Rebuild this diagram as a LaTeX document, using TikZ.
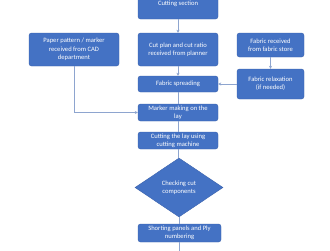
\documentclass[tikz,border=0pt]{standalone}
\usepackage{fontspec}
\setmainfont{Carlito}
\usetikzlibrary{arrows.meta,positioning,shapes.geometric}
\definecolor{stepblue}{HTML}{4472C4}
\definecolor{stepedge}{HTML}{3A62AD}
\definecolor{linkgray}{HTML}{8EA5CF}
\tikzset{
  flow/.style={-{Stealth[length=3pt,width=3pt]},draw=linkgray,line width=.6pt},
  link/.style={draw=linkgray,line width=.6pt},
  stepbox/.style={rounded corners=2.5pt,draw=stepedge,fill=stepblue,text=white,
    align=center,inner sep=1pt,font=\fontsize{6.6}{8.3}\selectfont},
  checkbox/.style={diamond,draw=stepedge,fill=stepblue,text=white,align=center,
    inner sep=0pt,font=\fontsize{6.6}{8.3}\selectfont},
}
\begin{document}
\begin{tikzpicture}[x=1pt,y=-1pt]
\useasboundingbox (0,0) rectangle (330,250);
\clip (0,0) rectangle (330,250);
\fill[white] (0,0) rectangle (330,250);
\node[stepbox,minimum width=80pt,minimum height=30pt] (sect) at (178,4) {Cutting section};
\node[stepbox,minimum width=80pt,minimum height=33pt] (plan) at (178,49.5) {Cut plan and cut ratio\\received from planner};
\node[stepbox,minimum width=90pt,minimum height=33pt] (pattern) at (74,49.5) {Paper pattern / marker\\received from CAD\\department};
\node[stepbox,minimum width=67pt,minimum height=24pt] (store) at (270.5,45) {Fabric received\\from fabric store};
\node[stepbox,minimum width=67pt,minimum height=30pt] (relax) at (270.5,84) {Fabric relaxation\\(if needed)};
\node[stepbox,minimum width=80pt,minimum height=16pt] (spread) at (178,84) {Fabric spreading};
\node[stepbox,minimum width=80pt,minimum height=17pt] (marker) at (178,112.5) {Marker making on the\\lay};
\node[stepbox,minimum width=80pt,minimum height=17pt] (lay) at (178,140.5) {Cutting the lay using\\cutting machine};
\node[checkbox,minimum width=88pt,minimum height=59pt] (check) at (179,187.5) {Checking cut\\components};
\node[stepbox,minimum width=83pt,minimum height=18pt] (sort) at (179.5,233) {Shorting panels and Ply\\numbering};
\coordinate (tail) at (179,252);
\draw[flow] (sect) -- (plan);
\draw[flow] (plan) -- (spread);
\draw[flow] (store) -- (relax);
\draw[flow] (relax) -- (spread);
\draw[link] (spread) -- (marker);
\draw[flow] (pattern.south) |- (marker.west);
\draw[link] (marker) -- (lay);
\draw[link] (lay.south) -- (lay.south |- check.north);
\draw[link] (check.south) -- (check.south |- sort.north);
\draw[link] (sort.south) -- (sort.south |- tail);
\end{tikzpicture}
\end{document}
